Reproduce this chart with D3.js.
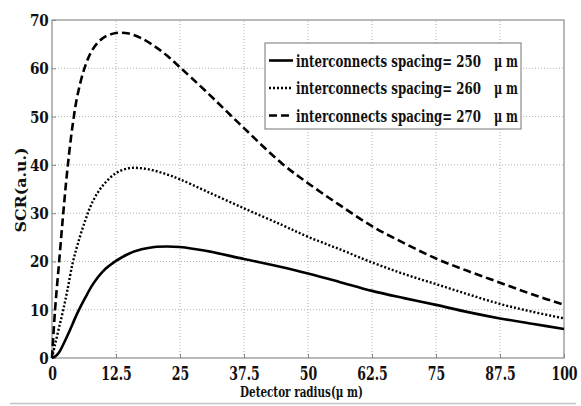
<!DOCTYPE html>
<html>
<head>
<meta charset="utf-8">
<script src="https://cdn.jsdelivr.net/npm/d3@7"></script>
<style>
  body { margin: 0; background: #fff; }
</style>
</head>
<body>
<svg width="581" height="406" font-weight="bold"></svg>
<script>
// values
const radius = [0, 0.6, 1.4, 2.2, 3, 4, 5, 6.5, 8, 10, 12.5, 15, 17.5, 20, 22.5, 25, 30, 37.5, 45, 50, 56, 62.5, 68.75, 75, 81.25, 87.5, 93.75, 100];
const sp250 = [0, 0.3, 1.2, 2.8, 4.6, 7, 9.4, 12.5, 15.3, 18, 20.1, 21.6, 22.5, 23, 23.1, 23, 22.2, 20.5, 18.8, 17.5, 15.8, 13.9, 12.4, 11.0, 9.5, 8.2, 7.1, 6.0];
const sp260 = [0, 2.8, 6.4, 10, 14, 19.5, 23.5, 28.5, 32.5, 35.8, 38.3, 39.3, 39.3, 38.8, 38, 37, 34.6, 31, 27.5, 25.1, 22.6, 19.8, 17.4, 15.3, 13.2, 11.2, 9.6, 8.2];
const sp270 = [0, 10, 20, 30, 39, 48, 54.5, 60.5, 64, 66.3, 67.3, 67.2, 66.2, 64.6, 62.6, 60.2, 55.3, 47.6, 40.2, 36.2, 31.8, 27.3, 23.8, 20.6, 18, 15.6, 13.2, 11.0];

const seriesNames = ["interconnects spacing= 250", "interconnects spacing= 260", "interconnects spacing= 270"];
const xTicks = [0, 12.5, 25, 37.5, 50, 62.5, 75, 87.5, 100];
const xTickLabels = ["0", "12.5", "25", "37.5", "50", "62.5", "75", "87.5", "100"];
const yTicks = [0, 10, 20, 30, 40, 50, 60, 70];

const W = 581, H = 406;
const m = { top: 20, right: 17, bottom: 48, left: 52 };
const FONT = "DejaVu Serif";

const svg = d3.select("svg").attr("font-family", FONT);
const x = d3.scaleLinear().domain([0, 100]).range([m.left, W - m.right]);
const y = d3.scaleLinear().domain([0, 70]).range([H - m.bottom, m.top]);

// squeeze a text horizontally so it fills a given width
function fitWidth(sel, width) {
  const len = sel.node().getComputedTextLength();
  sel.attr("transform", `scale(${width / len},1)`);
}

// grid
svg.append("g")
  .selectAll("line")
  .data(xTicks.slice(1, -1))
  .join("line")
  .attr("x1", d => x(d)).attr("x2", d => x(d))
  .attr("y1", y(0)).attr("y2", y(70))
  .attr("stroke", "#9a9a9a").attr("stroke-width", 0.8)
  .attr("stroke-dasharray", "1,2");
svg.append("g")
  .selectAll("line")
  .data(yTicks.slice(1, -1))
  .join("line")
  .attr("x1", x(0)).attr("x2", x(100))
  .attr("y1", d => y(d)).attr("y2", d => y(d))
  .attr("stroke", "#9a9a9a").attr("stroke-width", 0.8)
  .attr("stroke-dasharray", "1,2");

// axes
const xAxis = svg.append("g")
  .attr("transform", `translate(0,${y(0)})`)
  .call(d3.axisBottom(x).tickValues(xTicks).tickFormat((d, i) => xTickLabels[i]).tickSizeInner(-4).tickSizeOuter(0));
xAxis.selectAll("text")
  .attr("font-size", 19).attr("dy", null).attr("y", 22)
  .attr("transform", "scale(0.66,1)");

const yAxis = svg.append("g")
  .attr("transform", `translate(${x(0)},0)`)
  .call(d3.axisLeft(y).tickValues(yTicks).tickSizeInner(-4).tickSizeOuter(0));
yAxis.selectAll("text").attr("font-size", 17).attr("x", -4)
  .attr("transform", "scale(0.8,1)");

svg.selectAll(".domain").remove();
svg.selectAll(".tick line").attr("stroke", "#888");
svg.selectAll("g").attr("font-family", FONT);
svg.selectAll(".tick text").attr("fill", "#111");

// frame
svg.append("rect")
  .attr("x", x(0)).attr("y", y(70))
  .attr("width", x(100) - x(0)).attr("height", y(0) - y(70))
  .attr("fill", "none").attr("stroke", "#8a8a8a").attr("stroke-width", 1.2);

// curves
const styles = [
  { dash: null, width: 2.6 },
  { dash: "2,2", width: 2.4 },
  { dash: "8,4", width: 2.6 }
];
const series = [sp250, sp260, sp270];
const line = d3.line().x(d => x(d[0])).y(d => y(d[1])).curve(d3.curveCatmullRom.alpha(0.5));

svg.append("g")
  .selectAll("path")
  .data(series)
  .join("path")
  .attr("d", s => line(radius.map((r, i) => [r, s[i]])))
  .attr("fill", "none")
  .attr("stroke", "#000")
  .attr("stroke-width", (s, i) => styles[i].width)
  .attr("stroke-dasharray", (s, i) => styles[i].dash);

// legend
const lg = svg.append("g");
lg.append("rect")
  .attr("x", 265).attr("y", 43).attr("width", 256).attr("height", 86)
  .attr("fill", "#fff").attr("stroke", "#8a8a8a").attr("stroke-width", 1.2);
seriesNames.forEach((name, i) => {
  const base = 66.5 + i * 27.5;
  lg.append("line")
    .attr("x1", 269).attr("x2", 293)
    .attr("y1", base - 6).attr("y2", base - 6)
    .attr("stroke", "#000")
    .attr("stroke-width", styles[i].width)
    .attr("stroke-dasharray", styles[i].dash);
  const g1 = lg.append("g").attr("transform", `translate(296,${base})`);
  fitWidth(g1.append("text").attr("font-size", 16).attr("fill", "#111").text(name), 185);
  const g2 = lg.append("g").attr("transform", `translate(494,${base})`);
  fitWidth(g2.append("text").attr("font-size", 16).attr("fill", "#111").text("μ m"), 24);
});

// axis titles
svg.append("text")
  .attr("transform", "translate(26,190) rotate(-90)")
  .attr("text-anchor", "middle")
  .attr("fill", "#111")
  .attr("font-size", 14)
  .attr("textLength", 85).attr("lengthAdjust", "spacingAndGlyphs")
  .text("SCR(a.u.)");
const xl = svg.append("g").attr("transform", "translate(301.5,397)");
fitWidth(xl.append("text")
  .attr("text-anchor", "middle")
  .attr("fill", "#111")
  .attr("font-size", 15)
  .text("Detector radius(μ m)"), 123);

// thin rule at bottom of the figure
svg.append("line")
  .attr("x1", 10).attr("x2", 576).attr("y1", 403.5).attr("y2", 403.5)
  .attr("stroke", "#c4c4c4").attr("stroke-width", 1.5);
</script>
</body>
</html>
